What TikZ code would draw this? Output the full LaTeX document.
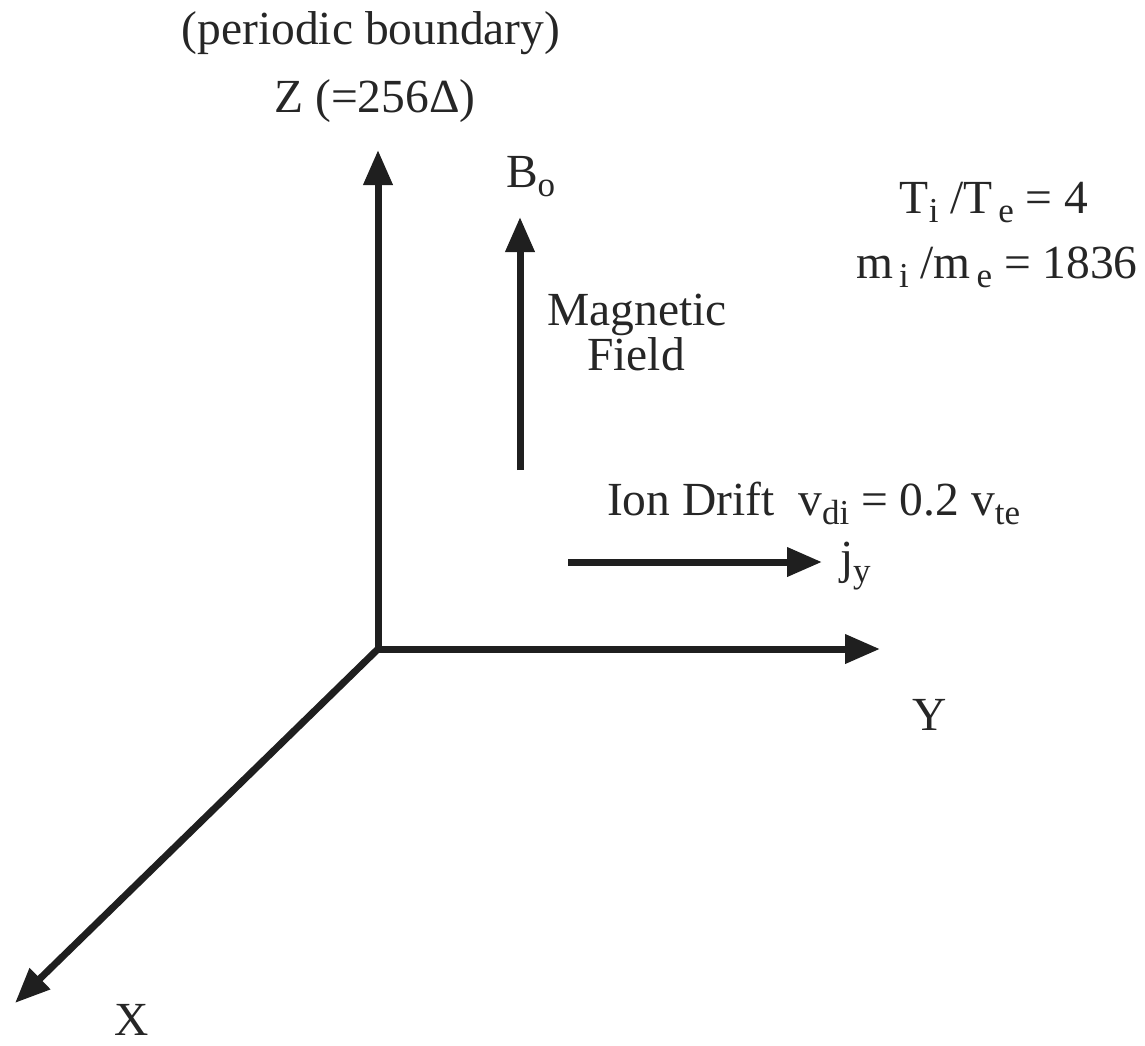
\documentclass[tikz,border=0pt]{standalone}
\usepackage{fontspec}
\setmainfont{Liberation Serif}
\usetikzlibrary{arrows.meta}
\newcommand\sbsc[1]{\raisebox{-9pt}{\fontsize{35}{35}\selectfont #1}}
\tikzset{
  axis/.style={line width=7pt, color=black!88, -{Triangle[length=35pt,width=28pt]}},
  lbl/.style={inner sep=0pt, outer sep=0pt, font=\fontsize{47.5}{57}\selectfont, text=black!85},
}
\begin{document}
\begin{tikzpicture}[x=1pt,y=-1pt]
\useasboundingbox (0,0) rectangle (1145,1045);
\coordinate (O) at (378,649);
\coordinate (Zt) at (378,150);
\coordinate (Yt) at (880,649);
\coordinate (Xt) at (15,1003);
\coordinate (Bs) at (520,470);
\coordinate (Bt) at (520,217);
\coordinate (Js) at (568,562);
\coordinate (Jt) at (822,562);
\draw[axis, line cap=butt] (O) -- (Zt);
\draw[axis] (O) -- (Yt);
\draw[axis] (O) -- (Xt);
\draw[axis] (Bs) -- (Bt);
\draw[axis] (Js) -- (Jt);
\fill[black!88] (O) circle (3.5pt);
\node[lbl, anchor=base] (pb) at (371,44) {(periodic boundary)};
\node[lbl, anchor=base] (zl) at (375,112) {Z (=256Δ)};
\node[lbl, anchor=base west] (bl) at (506,187) {B\sbsc{o}};
\node[lbl, anchor=base] (mg) at (637,325) {Magnetic};
\node[lbl, anchor=base] (fd) at (636,370) {Field};
\node[lbl, anchor=base] (tr) at (994,213) {T\sbsc{i} /T\sbsc{\,e} = 4};
\node[lbl, anchor=base] (mr) at (997,278) {m\sbsc{\,i} /m\sbsc{\,e} = 1836};
\node[lbl, anchor=base west] (id) at (607,515) {Ion Drift\ \ v\sbsc{di} = 0.2 v\sbsc{te}};
\node[lbl, anchor=base west] (jl) at (840,573) {j\sbsc{y}};
\node[lbl, anchor=base] (yl) at (930,730) {Y};
\node[lbl, anchor=base] (xl) at (132,1035) {X};
\end{tikzpicture}
\end{document}
